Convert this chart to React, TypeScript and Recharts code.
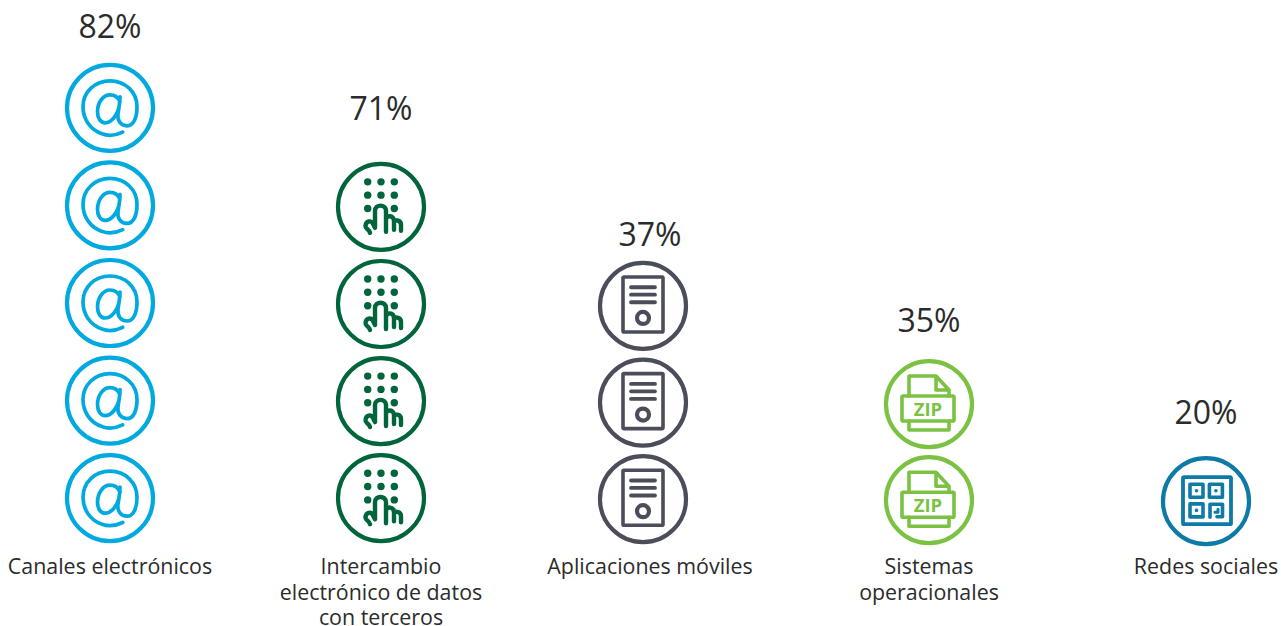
import React from "react";
import { BarChart, Bar, XAxis, YAxis, LabelList } from "recharts";

const categories = [
  "Canales electrónicos",
  "Intercambio\nelectrónico de datos\ncon terceros",
  "Aplicaciones móviles",
  "Sistemas\noperacionales",
  "Redes sociales",
];
const percentages = [82, 71, 37, 35, 20];
const iconCounts = [5, 4, 3, 2, 1];
const iconKinds = ["at", "keypad", "doc", "zip", "qr"];
const colors = ["#00a9e0", "#00653b", "#4b4e5a", "#7cc242", "#0e7aa6"];

const iconNudgeX = [0, -3, -15, -3, 0];
const labelNudgeX = [0, -3, -8, -3, 0];
const iconNudgeY = [0, 0, 1, 2, 3];
const iconPitch = [1, 0.995, 0.99, 0.985, 1];
const pctOffsetY = [-81, -96, -69, -82, -88];

const rows = categories.map((name, i) => ({
  name,
  icons: iconCounts[i],
  pct: percentages[i],
  kind: iconKinds[i],
  color: colors[i],
}));

const FONT = "'Open Sans', sans-serif";
const TEXT = "#2b2b2b";

function Glyph({ kind, color }: { kind: string; color: string }) {
  const line = { fill: "none", stroke: color, strokeLinecap: "round" as const, strokeLinejoin: "round" as const };
  if (kind === "at") {
    return (
      <path
        {...line}
        strokeWidth={3.7}
        d="M12.7 24.3 C5 28 -3 28 -8 26 C-20 22 -27 11 -27 -1 C-27 -16 -15 -27 0 -27 C15 -27 27 -16 27 -1 C27 9 24 18 17 18 C11 18 7 13 8 6 C9 0 10 -6 10 -11 M10 -6 C8 -11 4 -13 0 -13 C-7 -13 -12.5 -5 -12.5 4 C-12.5 11 -9 15 -5 15 C2 15 7 7 9 0"
      />
    );
  }
  if (kind === "keypad") {
    const dots: [number, number][] = [
      [-13.3, -25], [0, -25], [13.3, -25],
      [-13.3, -11.7], [0, -11.7], [13.3, -11.7],
      [-13.3, 1.7], [13.3, 1.7],
    ];
    return (
      <g>
        {dots.map(([x, y], i) => (
          <circle key={i} cx={x} cy={y} r={3.7} fill={color} />
        ))}
        <path
          {...line}
          strokeWidth={4.4}
          d="M-11 26 C-12 22 -16 22 -15.5 19 C-15 14 -10 13 -8 17 L-6 21 L-6 4 C-6 -3 5 -3 5 4 L5 25 M5 13 C5 8 13 8 13 14 L13 23 M13 16 C13 12 20 13 20 18 L20 24"
        />
      </g>
    );
  }
  if (kind === "doc") {
    return (
      <g>
        <rect {...line} strokeWidth={3.6} x={-20} y={-29} width={40} height={55} rx={1} />
        <path {...line} strokeWidth={3.8} d="M-12 -18.7 H12 M-12 -11.3 H12 M-12 -3.7 H12" />
        <circle {...line} strokeWidth={4.2} cx={0} cy={12} r={6} />
      </g>
    );
  }
  if (kind === "zip") {
    return (
      <g>
        <path {...line} strokeWidth={3.6} d="M-20 -8 V-28 H7 L20 -14 V-8 M7 -28 V-14 H20 M-20 17 V26 H20 V17" />
        <rect {...line} strokeWidth={3.6} x={-27} y={-8} width={52} height={25} rx={1} />
        <text x={-1} y={11.5} textAnchor="middle" fontFamily={FONT} fontWeight={700} fontSize={18.5} fill={color}>
          ZIP
        </text>
      </g>
    );
  }
  const cells: [number, number][] = [[-16, -17], [3.4, -17], [-16, 2.7]];
  return (
    <g>
      <rect {...line} strokeWidth={3.8} x={-23} y={-24} width={48} height={47} rx={1} />
      {cells.map(([x, y], i) => (
        <g key={i}>
          <rect {...line} strokeWidth={3.6} x={x} y={y} width={13} height={13} />
          <circle cx={x + 6.5} cy={y + 6.5} r={1.8} fill={color} />
        </g>
      ))}
      <path {...line} strokeWidth={3.6} d="M4 16 V3 H16.5 V15.5 H11" />
      <path {...line} strokeWidth={3} d="M12 8 V11 H9" />
    </g>
  );
}

function IconStack(props: any) {
  const { x, y, width, height, index, payload } = props;
  const count = payload.icons;
  const unit = height / count;
  const cx = x + width / 2 + iconNudgeX[index];
  const items = [];
  const baseY = y + height - unit / 2 + iconNudgeY[index];
  for (let i = 0; i < count; i++) {
    const cy = baseY - unit * iconPitch[index] * i;
    items.push(
      <g key={i} transform={`translate(${cx},${cy})`}>
        <circle cx={0} cy={0} r={43} fill="#ffffff" stroke={payload.color} strokeWidth={4.2} />
        <Glyph kind={payload.kind} color={payload.color} />
      </g>
    );
  }
  return <g>{items}</g>;
}

function CategoryTick(props: any) {
  const { x, y, payload, index } = props;
  const lines = String(payload.value).split("\n");
  return (
    <text x={x + labelNudgeX[index]} y={y} textAnchor="middle" fontFamily={FONT} fontSize={21.4} fill={TEXT}>
      {lines.map((l: string, i: number) => (
        <tspan key={i} x={x + labelNudgeX[index]} y={y + 19 + i * 25.6}>
          {l}
        </tspan>
      ))}
    </text>
  );
}

function PctLabel(props: any) {
  const { x, y, width, value, index } = props;
  const top = y + 48.8 + iconNudgeY[index];
  return (
    <text
      x={x + width / 2 + labelNudgeX[index]}
      y={top + pctOffsetY[index] + 11}
      textAnchor="middle"
      fontFamily={FONT}
      fontSize={32}
      fill={TEXT}
    >
      {value}%
    </text>
  );
}

export default function App() {
  return (
    <div style={{ position: "absolute", left: 0, top: 0, width: 1281, height: 626, background: "#fff" }}>
      <BarChart
        width={1281}
        height={626}
        data={rows}
        margin={{ top: 59, right: -62, bottom: 0, left: -27 }}
        barCategoryGap={0}
      >
        <XAxis dataKey="name" height={79} axisLine={false} tickLine={false} tick={<CategoryTick />} interval={0} />
        <YAxis hide type="number" domain={[0, 5]} />
        <Bar dataKey="icons" isAnimationActive={false} shape={<IconStack />}>
          <LabelList dataKey="pct" content={<PctLabel />} />
        </Bar>
      </BarChart>
    </div>
  );
}
